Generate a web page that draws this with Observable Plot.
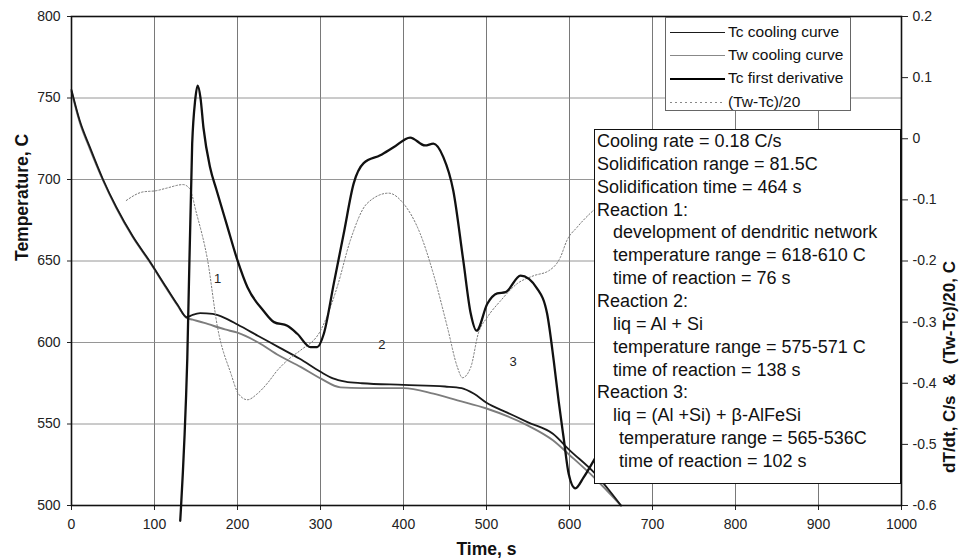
<!DOCTYPE html>
<html>
<head>
<meta charset="utf-8">
<script src="https://cdn.jsdelivr.net/npm/d3@7"></script>
<script src="https://cdn.jsdelivr.net/npm/@observablehq/plot@0.6"></script>
<style>
  body { margin: 0; background: #fff; }
  #wrap { position: relative; width: 962px; height: 560px; font-family: "Liberation Sans", Arial, sans-serif; color: #111; }
  #wrap svg { position: absolute; left: 0; top: 0; }
  #legend { position: absolute; left: 665px; top: 17px; width: 186px; height: 94px; background: #fff;
            border: 1px solid #666; box-sizing: border-box; font-size: 15.5px; }
  .row { position: absolute; left: 0; width: 100%; height: 20px; }
  .sw { position: absolute; left: 4px; width: 55px; top: 10px; }
  .lt { position: absolute; left: 62px; top: 0; line-height: 20px; white-space: nowrap; }
  #box { position: absolute; left: 594px; top: 129px; width: 307px; height: 355px; background: #fff;
         border: 1.5px solid #111; box-sizing: border-box; font-size: 18px; line-height: 22.86px;
         padding: 0 0 0 2px; white-space: nowrap; }
  #box .i1 { padding-left: 16px; }
  #box .i2 { padding-left: 22px; }
</style>
</head>
<body>
<div id="wrap"></div>
<script>
// ---------- data ----------
const xTicks = [0, 100, 200, 300, 400, 500, 600, 700, 800, 900, 1000];
const yTicks = [500, 550, 600, 650, 700, 750, 800];
const rTicks = [-0.6, -0.5, -0.4, -0.3, -0.2, -0.1, 0, 0.1, 0.2];

const tcTime = [0, 10, 22, 38, 54, 74, 94, 114, 128, 139, 146, 155, 170, 185, 200, 225, 250, 275, 300, 315, 330, 350, 400, 450, 470, 485, 500, 525, 550, 580, 600, 630, 662];
const tcTemp = [755, 736, 720, 700, 683, 665, 650, 634, 623, 615.5, 617, 618, 617.5, 615, 611, 604, 597, 590, 582, 578, 576, 575, 574, 573, 572, 568.5, 563, 557, 551, 544, 534, 520, 500];

const twTime = [0, 10, 22, 38, 54, 74, 94, 114, 128, 139, 146, 160, 185, 200, 225, 250, 276, 300, 324, 350, 400, 436, 465, 500, 550, 580, 600, 630, 662];
const twTemp = [754, 735, 719, 699.5, 682.5, 664.5, 649.5, 633.5, 622.5, 615, 614, 612, 608, 606, 600, 592, 585, 578, 572.5, 572, 572, 568.6, 564.5, 559.5, 549, 540, 531, 517, 500];

const dTime = [131, 139.5, 145.4, 149, 152, 155.4, 159, 167, 175, 187, 200, 212, 231, 244, 260, 272, 288, 296, 304, 316, 328, 340, 352, 372, 388, 408, 426, 436, 448, 460, 472, 481, 488, 501, 513, 523, 541, 561, 573, 581, 587, 593, 599, 607, 617, 629, 645];
const dVal  = [-0.625, -0.36, -0.008, 0.063, 0.087, 0.067, 0.018, -0.047, -0.085, -0.14, -0.199, -0.243, -0.281, -0.30, -0.306, -0.319, -0.341, -0.341, -0.319, -0.237, -0.155, -0.073, -0.04, -0.027, -0.014, 0.002, -0.011, -0.008, -0.03, -0.085, -0.199, -0.286, -0.314, -0.27, -0.253, -0.251, -0.224, -0.245, -0.286, -0.363, -0.43, -0.49, -0.548, -0.572, -0.554, -0.527, -0.49];

const wTime = [66, 86, 102, 114, 134.5, 142, 150.6, 164, 176, 192, 201, 212, 224, 236, 248, 264, 276, 300, 320, 336, 356, 382, 400, 420, 436, 453, 465, 471, 481, 490, 501, 517, 537, 557, 575, 589, 597, 609, 625, 645];
const wVal  = [-0.101, -0.087, -0.085, -0.081, -0.075, -0.081, -0.122, -0.199, -0.309, -0.384, -0.417, -0.427, -0.417, -0.4, -0.379, -0.358, -0.346, -0.314, -0.243, -0.166, -0.106, -0.089, -0.106, -0.155, -0.221, -0.309, -0.374, -0.391, -0.374, -0.319, -0.292, -0.265, -0.237, -0.224, -0.216, -0.194, -0.166, -0.145, -0.122, -0.10];

const regionLabels = ["1", "2", "3"];
const regionTime = [176, 374, 532];
const regionTemp = [639, 598.6, 588.3];

const leftTitle = "Temperature, C";
const bottomTitle = "Time, s";
const rightTitle = "dT/dt, C/s\u00a0\u00a0&\u00a0\u00a0(Tw-Tc)/20, C";

const legendItems = ["Tc cooling curve", "Tw cooling curve", "Tc first derivative", "(Tw-Tc)/20"];
const boxLines = [
  ["", "Cooling rate = 0.18 C/s"],
  ["", "Solidification range = 81.5C"],
  ["", "Solidification time = 464 s"],
  ["", "Reaction 1:"],
  ["i1", "development of dendritic network"],
  ["i1", "temperature range = 618-610 C"],
  ["i1", "time of reaction = 76 s"],
  ["", "Reaction 2:"],
  ["i1", "liq = Al + Si"],
  ["i1", "temperature range = 575-571 C"],
  ["i1", "time of reaction = 138 s"],
  ["", "Reaction 3:"],
  ["i1", "liq = (Al +Si) + \u03b2-AlFeSi"],
  ["i2", "temperature range = 565-536C"],
  ["i2", "time of reaction = 102 s"]
];

// ---------- build tables ----------
const tc = tcTime.map((t, i) => ({t, v: tcTemp[i]}));
const tw = twTime.map((t, i) => ({t, v: twTemp[i]}));
const dd = dTime.map((t, i) => ({t, v: dVal[i]}));
const ww = wTime.map((t, i) => ({t, v: wVal[i]}));
const labs = regionLabels.map((s, i) => ({s, t: regionTime[i], v: regionTemp[i]}));

const dims = {width: 962, height: 560, marginLeft: 71, marginRight: 61, marginTop: 16, marginBottom: 55};
const font = {fontFamily: "'Liberation Sans', Arial, sans-serif", fontSize: "14px", color: "#1a1a1a", background: "transparent", overflow: "visible"};

const base = Plot.plot({
  ...dims,
  style: font,
  x: {domain: [0, 1000], axis: null},
  y: {domain: [500, 800], axis: null},
  marks: [
    Plot.gridX(xTicks.slice(1, -1), {stroke: "#6a6a6a", strokeOpacity: 1, strokeWidth: 0.9}),
    Plot.gridY(yTicks.slice(1, -1), {stroke: "#8a8a8a", strokeOpacity: 1, strokeWidth: 0.9}),
    Plot.axisX(xTicks, {tickSize: 5, tickPadding: 9, stroke: "#222", fill: "#222", label: null, tickFormat: d => String(d)}),
    Plot.axisY(yTicks, {tickSize: 4, tickPadding: 7, stroke: "#222", fill: "#222", label: null, tickFormat: d => String(d)}),
    Plot.line(tw, {x: "t", y: "v", stroke: "#7d7d7d", strokeWidth: 1.9, curve: "monotone-x"}),
    Plot.line(tc, {x: "t", y: "v", stroke: "#1a1a1a", strokeWidth: 1.8, curve: "monotone-x"}),
    Plot.text(labs, {x: "t", y: "v", text: "s", fontSize: 13, fill: "#222"}),
    Plot.text([leftTitle], {frameAnchor: "left", dx: -49, rotate: -90, fontWeight: "bold", fontSize: 17.5, fill: "#111"}),
    Plot.text([bottomTitle], {frameAnchor: "bottom", dy: 49, fontWeight: "bold", fontSize: 17.5, fill: "#111"}),
    Plot.frame({stroke: "#111", strokeWidth: 1.6})
  ]
});

const over = Plot.plot({
  ...dims,
  style: font,
  x: {domain: [0, 1000], axis: null},
  y: {domain: [-0.6, 0.2], axis: null},
  marks: [
    Plot.axisY(rTicks, {anchor: "right", tickSize: 6, tickPadding: 5, stroke: "#222", fill: "#222", label: null,
      tickFormat: d => (Math.abs(d) < 1e-9 ? "0" : d.toFixed(1))}),
    Plot.line(ww, {x: "t", y: "v", stroke: "#777", strokeWidth: 1, strokeDasharray: "1.5,2", curve: "monotone-x"}),
    Plot.line(dd, {x: "t", y: "v", stroke: "#111", strokeWidth: 2.3, curve: "monotone-x"}),
    Plot.text([rightTitle], {frameAnchor: "right", dx: 48, rotate: -90, fontWeight: "bold", fontSize: 17, fill: "#111"})
  ]
});

const wrap = document.getElementById("wrap");
wrap.appendChild(base);
wrap.appendChild(over);

// text box
const box = document.createElement("div");
box.id = "box";
boxLines.forEach(([cls, txt]) => {
  const d = document.createElement("div");
  if (cls) d.className = cls;
  d.textContent = txt;
  box.appendChild(d);
});
wrap.appendChild(box);

// legend
const swStyles = [
  "border-top:1.5px solid #1a1a1a;",
  "border-top:1.5px solid #888;",
  "border-top:2px solid #000;",
  "height:1px;background:repeating-linear-gradient(to right,#888 0 1.5px,transparent 1.5px 5px);"
];
const rowTops = [4, 27, 50, 74];
const legend = document.createElement("div");
legend.id = "legend";
legendItems.forEach((name, i) => {
  const r = document.createElement("div");
  r.className = "row";
  r.style.top = rowTops[i] + "px";
  const s = document.createElement("div");
  s.className = "sw";
  s.setAttribute("style", swStyles[i]);
  const l = document.createElement("div");
  l.className = "lt";
  l.textContent = name;
  r.appendChild(s);
  r.appendChild(l);
  legend.appendChild(r);
});
wrap.appendChild(legend);
</script>
</body>
</html>
